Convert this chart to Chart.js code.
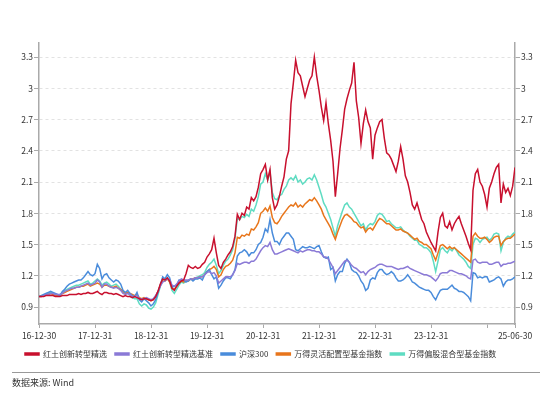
<!DOCTYPE html>
<html lang="zh-CN">
<head>
  <meta charset="UTF-8">
  <title>红土创新转型精选 净值走势</title>
  <style>
    body { margin: 0; padding: 0; background: #fff; }
    .wrap { position: relative; width: 553px; height: 395px; }
    #chart { position: absolute; left: 0; top: 0; }
    .rule { position: absolute; left: 12px; width: 528px; top: 372px; border-top: 1px solid #999; }
    .source {
      position: absolute; left: 12px; top: 376px;
      font-family: "Noto Sans CJK SC", sans-serif; font-size: 9px; color: #333;
    }
  </style>
  <script src="https://cdn.jsdelivr.net/npm/chart.js"></script>
</head>
<body>
<div class="wrap">
  <canvas id="chart" width="553" height="395"></canvas>
  <div class="rule"></div>
  <div class="source">数据来源: Wind</div>
</div>

<script>
  // x ticks: months since 2016-12-30
  const tickMonths = [0, 12, 24, 36, 48, 60, 72, 84, 96, 102];
  const tickLabels = ['16-12-30', '17-12-31', '18-12-31', '19-12-31', '20-12-31',
                      '21-12-31', '22-12-31', '23-12-31', '', '25-06-30'];
  const yTicks = [0.9, 1.2, 1.5, 1.8, 2.1, 2.4, 2.7, 3, 3.3];

  const seriesNames = ['红土创新转型精选', '红土创新转型精选基准', '沪深300', '万得灵活配置型基金指数', '万得偏股混合型基金指数'];

  // half-month samples, one row per year
  const fundNav = [
    1.00,1.00,1.00,1.01,1.01,1.01,1.01,1.00,1.00,1.00,1.01,1.01,1.01,1.02,1.02,1.02,1.02,1.03,1.02,1.03,1.03,1.04,1.03,1.03,
    1.04,1.05,1.03,1.02,1.04,1.04,1.03,1.03,1.02,1.03,1.02,1.01,1.00,1.01,1.00,1.00,0.99,1.00,0.99,0.98,0.97,0.98,0.98,0.97,
    0.96,0.97,1.00,1.05,1.12,1.17,1.16,1.18,1.15,1.08,1.06,1.10,1.13,1.15,1.16,1.22,1.30,1.28,1.27,1.29,1.27,1.28,1.31,1.33,
    1.38,1.41,1.45,1.56,1.42,1.30,1.27,1.33,1.36,1.40,1.43,1.48,1.58,1.79,1.74,1.80,1.78,1.86,1.84,1.95,1.92,1.96,2.05,2.18,
    2.22,2.27,2.12,2.22,1.95,1.84,1.88,1.96,2.06,2.15,2.32,2.40,2.85,3.05,3.27,3.15,3.12,3.02,2.92,3.00,3.08,3.12,3.30,3.12,
    2.98,2.82,2.69,2.86,2.66,2.50,2.30,1.96,2.18,2.42,2.60,2.80,2.90,2.98,3.05,3.25,2.88,2.72,2.47,2.66,2.79,2.68,2.62,2.32,
    2.55,2.62,2.68,2.70,2.52,2.38,2.36,2.32,2.26,2.20,2.30,2.44,2.32,2.16,2.10,2.00,1.88,1.84,1.90,1.82,1.74,1.70,1.62,1.57,
    1.52,1.48,1.44,1.62,1.76,1.80,1.68,1.66,1.72,1.64,1.70,1.74,1.77,1.70,1.64,1.58,1.51,1.45,2.02,2.18,2.22,2.10,2.06,1.98,
    1.86,2.04,2.10,2.18,2.24,2.27,1.90,2.08,2.00,2.04,1.97,2.06,2.24
  ];
  const benchmark = [
    1.00,1.00,1.01,1.02,1.02,1.03,1.03,1.02,1.02,1.02,1.03,1.05,1.06,1.07,1.08,1.08,1.09,1.09,1.10,1.11,1.12,1.13,1.11,1.12,
    1.13,1.16,1.14,1.09,1.12,1.12,1.10,1.09,1.08,1.09,1.08,1.06,1.03,1.02,1.03,1.02,1.00,1.00,1.01,0.98,0.98,0.98,0.99,0.98,
    0.97,0.98,1.01,1.05,1.10,1.14,1.15,1.17,1.16,1.11,1.10,1.12,1.15,1.17,1.16,1.16,1.16,1.17,1.17,1.18,1.18,1.19,1.19,1.21,
    1.23,1.24,1.22,1.23,1.20,1.13,1.15,1.17,1.19,1.19,1.19,1.21,1.25,1.32,1.31,1.32,1.33,1.33,1.32,1.34,1.34,1.36,1.40,1.44,
    1.47,1.49,1.48,1.52,1.45,1.41,1.41,1.42,1.43,1.44,1.45,1.46,1.45,1.44,1.43,1.42,1.44,1.43,1.44,1.45,1.45,1.44,1.44,1.43,
    1.43,1.41,1.38,1.38,1.36,1.32,1.28,1.22,1.25,1.28,1.31,1.34,1.35,1.33,1.30,1.28,1.27,1.25,1.23,1.24,1.21,1.24,1.26,1.27,
    1.28,1.30,1.31,1.31,1.30,1.29,1.29,1.29,1.28,1.27,1.26,1.27,1.27,1.28,1.29,1.27,1.26,1.25,1.24,1.23,1.22,1.21,1.21,1.20,
    1.19,1.17,1.15,1.18,1.22,1.23,1.23,1.23,1.25,1.25,1.24,1.23,1.22,1.22,1.21,1.20,1.18,1.17,1.35,1.36,1.33,1.32,1.33,1.33,
    1.33,1.31,1.31,1.32,1.33,1.33,1.29,1.31,1.31,1.32,1.32,1.33,1.34
  ];
  const hs300 = [
    1.00,1.01,1.02,1.03,1.04,1.05,1.04,1.03,1.02,1.01,1.05,1.07,1.10,1.12,1.13,1.14,1.15,1.16,1.16,1.18,1.21,1.24,1.21,1.20,
    1.22,1.31,1.27,1.17,1.21,1.22,1.18,1.16,1.14,1.16,1.15,1.12,1.06,1.04,1.06,1.03,1.01,1.00,1.04,0.97,0.95,0.98,0.96,0.94,
    0.91,0.93,0.97,1.04,1.11,1.19,1.17,1.21,1.18,1.09,1.10,1.11,1.16,1.16,1.16,1.14,1.15,1.17,1.15,1.17,1.17,1.18,1.16,1.21,
    1.24,1.26,1.21,1.17,1.19,1.08,1.11,1.15,1.18,1.18,1.17,1.21,1.26,1.39,1.42,1.43,1.45,1.43,1.39,1.42,1.42,1.45,1.50,1.52,
    1.57,1.65,1.62,1.74,1.61,1.53,1.53,1.50,1.55,1.58,1.61,1.61,1.58,1.55,1.45,1.44,1.46,1.48,1.47,1.47,1.48,1.47,1.46,1.48,
    1.49,1.43,1.38,1.37,1.38,1.26,1.28,1.15,1.21,1.24,1.24,1.32,1.36,1.33,1.26,1.24,1.23,1.20,1.15,1.12,1.06,1.08,1.16,1.18,
    1.17,1.23,1.26,1.26,1.23,1.21,1.22,1.24,1.22,1.18,1.15,1.15,1.16,1.18,1.21,1.18,1.14,1.13,1.11,1.09,1.08,1.07,1.06,1.06,
    1.04,1.00,0.97,1.02,1.06,1.07,1.07,1.07,1.09,1.11,1.08,1.07,1.05,1.05,1.04,1.02,1.00,0.96,1.23,1.22,1.18,1.19,1.18,1.19,
    1.19,1.14,1.15,1.16,1.18,1.19,1.17,1.10,1.14,1.16,1.16,1.17,1.19
  ];
  const flexAlloc = [
    1.00,1.00,1.01,1.02,1.02,1.03,1.02,1.01,1.01,1.01,1.03,1.04,1.05,1.06,1.07,1.08,1.09,1.09,1.10,1.10,1.11,1.12,1.10,1.11,
    1.12,1.13,1.12,1.09,1.11,1.11,1.10,1.09,1.09,1.10,1.08,1.07,1.05,1.03,1.04,1.03,1.02,1.01,1.02,0.99,0.98,0.99,0.98,0.97,
    0.96,0.97,1.00,1.05,1.11,1.15,1.15,1.17,1.14,1.08,1.07,1.10,1.13,1.15,1.14,1.15,1.15,1.17,1.17,1.18,1.18,1.19,1.19,1.21,
    1.24,1.26,1.27,1.29,1.26,1.19,1.21,1.26,1.29,1.30,1.32,1.35,1.42,1.57,1.56,1.59,1.58,1.60,1.59,1.65,1.64,1.67,1.71,1.80,
    1.82,1.85,1.82,1.87,1.76,1.71,1.70,1.73,1.77,1.80,1.83,1.86,1.88,1.87,1.90,1.86,1.88,1.86,1.89,1.91,1.93,1.92,1.95,1.92,
    1.88,1.84,1.78,1.74,1.70,1.66,1.60,1.55,1.62,1.68,1.74,1.78,1.79,1.77,1.75,1.72,1.71,1.68,1.66,1.67,1.62,1.65,1.66,1.64,
    1.68,1.72,1.75,1.74,1.72,1.70,1.70,1.68,1.66,1.64,1.64,1.65,1.63,1.62,1.61,1.59,1.57,1.55,1.56,1.53,1.52,1.50,1.50,1.48,
    1.46,1.40,1.35,1.42,1.49,1.50,1.48,1.46,1.48,1.46,1.47,1.45,1.43,1.41,1.39,1.37,1.35,1.33,1.58,1.61,1.58,1.56,1.56,1.57,
    1.55,1.52,1.54,1.57,1.58,1.58,1.49,1.53,1.55,1.56,1.56,1.58,1.60
  ];
  const equityHybrid = [
    1.00,1.01,1.01,1.03,1.03,1.04,1.03,1.02,1.01,1.02,1.04,1.06,1.07,1.08,1.09,1.10,1.11,1.11,1.12,1.13,1.14,1.15,1.12,1.13,
    1.15,1.17,1.15,1.11,1.13,1.14,1.12,1.10,1.11,1.12,1.10,1.07,1.05,1.03,1.04,1.01,0.99,0.98,0.98,0.93,0.91,0.93,0.92,0.89,
    0.88,0.90,0.94,1.02,1.10,1.17,1.16,1.18,1.14,1.06,1.03,1.07,1.11,1.14,1.13,1.15,1.15,1.17,1.16,1.18,1.19,1.20,1.21,1.23,
    1.28,1.31,1.33,1.36,1.30,1.22,1.25,1.30,1.34,1.36,1.40,1.45,1.56,1.75,1.74,1.77,1.76,1.79,1.77,1.84,1.82,1.88,1.96,2.08,
    2.10,2.18,2.12,2.20,2.00,1.94,1.93,1.97,1.98,2.03,2.06,2.12,2.14,2.12,2.16,2.10,2.12,2.08,2.10,2.13,2.14,2.12,2.17,2.12,
    2.05,1.98,1.90,1.86,1.80,1.74,1.66,1.58,1.68,1.75,1.82,1.88,1.90,1.86,1.84,1.80,1.76,1.72,1.68,1.70,1.64,1.68,1.70,1.69,
    1.72,1.78,1.80,1.79,1.76,1.72,1.73,1.70,1.68,1.66,1.66,1.67,1.64,1.62,1.61,1.58,1.56,1.54,1.54,1.50,1.49,1.47,1.47,1.45,
    1.42,1.34,1.24,1.34,1.45,1.47,1.44,1.42,1.46,1.44,1.47,1.44,1.40,1.38,1.36,1.33,1.29,1.27,1.50,1.56,1.55,1.52,1.55,1.56,
    1.57,1.54,1.56,1.60,1.61,1.60,1.44,1.52,1.56,1.58,1.57,1.60,1.62
  ];

  const colors = ['#C8102E', '#8B7AD6', '#4A8CDB', '#E8761C', '#5FDCC2'];
  const allSeries = [fundNav, benchmark, hs300, flexAlloc, equityHybrid];

  const months = fundNav.map((_, i) => i / 2);
  const cjkFamily = '"Noto Sans CJK SC", sans-serif';
  const tickFont = { family: cjkFamily, size: 8.5 };
  const textColor = '#333';
  const axisColor = '#aaa';

  const datasets = allSeries.map((vals, k) => ({
    label: seriesNames[k],
    data: vals.map((v, i) => ({ x: months[i], y: v })),
    borderColor: colors[k],
    backgroundColor: colors[k],
    borderWidth: 1.5,
    pointRadius: 0,
    tension: 0,
    order: k === 0 ? 0 : 1
  }));

  const yAxis = (pos) => ({
    position: pos,
    min: 0.737,
    max: 3.435,
    afterBuildTicks: s => { s.ticks = yTicks.map(v => ({ value: v })); },
    afterFit: s => { s.width = pos === 'left' ? 39 : 38; },
    ticks: { callback: v => String(v), font: tickFont, color: textColor, padding: 1 },
    grid: {
      drawOnChartArea: pos === 'left',
      color: '#e2e2e2',
      tickColor: axisColor,
      tickLength: 5
    },
    border: { color: axisColor, width: 1.5, dash: pos === 'left' ? [3, 3] : [] }
  });

  // the legend row sits a little left of centre in the original
  const legendShift = {
    id: 'legendShift',
    afterLayout(chart) { chart.legend.left += 17; }
  };

  new Chart(document.getElementById('chart'), {
    type: 'line',
    data: { datasets },
    plugins: [legendShift],
    options: {
      responsive: false,
      animation: false,
      devicePixelRatio: 1,
      layout: { padding: { top: 43, bottom: 27, left: 0, right: 0 } },
      scales: {
        x: {
          type: 'linear',
          min: 0,
          max: 102,
          afterBuildTicks: s => { s.ticks = tickMonths.map(v => ({ value: v })); },
          afterFit: s => { s.height = 18; },
          ticks: {
            callback: (v, i) => tickLabels[i],
            autoSkip: false, maxRotation: 0,
            font: tickFont, color: textColor, padding: 3
          },
          grid: { drawOnChartArea: false, tickColor: axisColor, tickLength: 4 },
          border: { color: axisColor, width: 1.5 }
        },
        y: yAxis('left'),
        y2: yAxis('right')
      },
      plugins: {
        legend: {
          position: 'bottom',
          align: 'start',
          labels: {
            boxWidth: 14,
            boxHeight: 2,
            padding: 8,
            color: textColor,
            font: { family: cjkFamily, size: 8 }
          }
        },
        tooltip: { enabled: false }
      }
    }
  });
</script>
</body>
</html>
